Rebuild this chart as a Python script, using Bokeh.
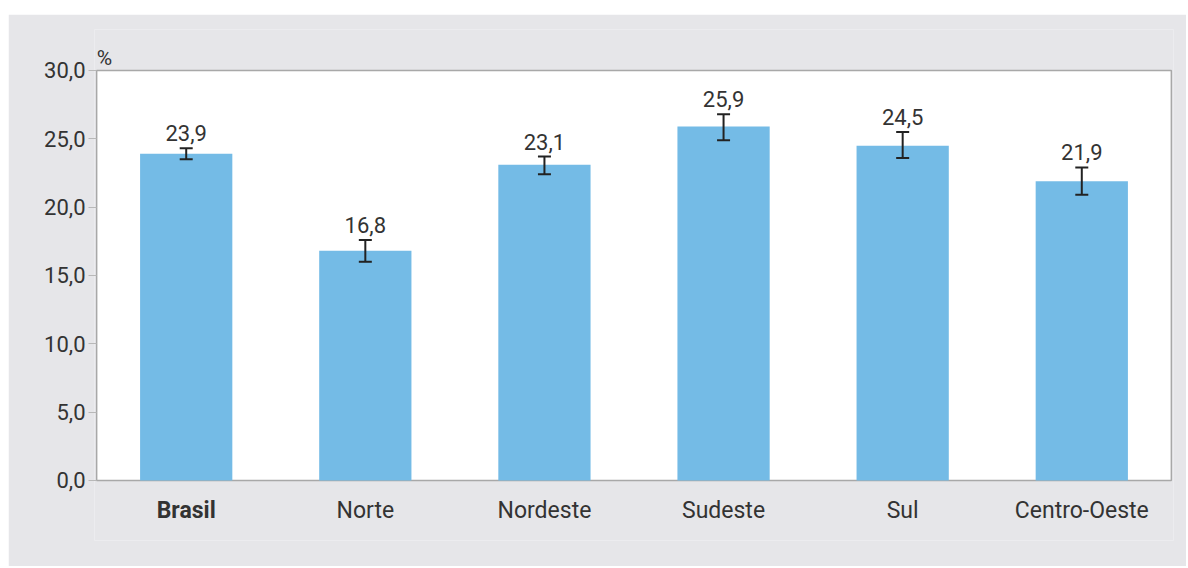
from bokeh.plotting import figure
from bokeh.models import (ColumnDataSource, Whisker, TeeHead, LabelSet, Label,
                          Range1d, FactorRange, CustomJSTickFormatter, Spacer, FixedTicker)
from bokeh.core.properties import value, field
from bokeh.layouts import column, row
from bokeh.embed import file_html
from bokeh.resources import INLINE

# ---- data ----
categories = ["Brasil", "Norte", "Nordeste", "Sudeste", "Sul", "Centro-Oeste"]
values = [23.9, 16.8, 23.1, 25.9, 24.5, 21.9]
lower = [23.5, 16.0, 22.4, 24.9, 23.6, 20.9]
upper = [24.3, 17.6, 23.7, 26.8, 25.5, 22.9]
y_ticks = [0, 5, 10, 15, 20, 25, 30]
unit_label = "%"
highlight = "Brasil"

FONT = "Roboto"
TEXT_COLOR = "#333333"
BG = "#e6e6e9"
BAR = "#74bbe6"
EDGE = "#a8a8a8"

src = ColumnDataSource(dict(
    cat=categories,
    val=values,
    lo=lower,
    hi=upper,
    lbl=[("%.1f" % v).replace(".", ",") for v in values],
    style=["bold" if c == highlight else "normal" for c in categories],
    base=[y_ticks[0]] * len(categories),
))

# frame extended below 0 and above 30 so that category labels and the unit
# label can be drawn inside it; the white plot area is drawn as a quad
p = figure(x_range=FactorRange(*categories, range_padding=0.004),
           y_range=Range1d(-4.4, 33.0),
           width=1178, height=552, output_backend="svg", toolbar_location=None,
           min_border_left=86, min_border_right=13, min_border_top=15, min_border_bottom=26)

p.border_fill_color = BG
p.background_fill_color = BG
p.outline_line_color = None
p.grid.visible = False

p.quad(left=[0], right=[len(categories)], bottom=[y_ticks[0]], top=[y_ticks[-1]],
       fill_color="white", line_color=EDGE, line_width=1.5)

p.vbar(x="cat", top="val", width=0.515, source=src, fill_color=BAR, line_color=None)

whisk = Whisker(base="cat", upper="hi", lower="lo", source=src, level="annotation",
                line_color="#222222", line_width=2,
                upper_head=TeeHead(size=13, line_color="#222222", line_width=2),
                lower_head=TeeHead(size=13, line_color="#222222", line_width=2))
p.add_layout(whisk)

p.add_layout(LabelSet(x="cat", y="hi", text="lbl", source=src, y_offset=7,
                      text_align="center", text_baseline="bottom",
                      text_font=value(FONT), text_font_size="22px", text_color=TEXT_COLOR))

p.add_layout(LabelSet(x="cat", y="base", text="cat", source=src, y_offset=-30,
                      text_align="center", text_baseline="middle",
                      text_font=value(FONT), text_font_size="23px",
                      text_font_style=field("style"), text_color=TEXT_COLOR))

p.add_layout(Label(x=0, y=y_ticks[-1], text=unit_label, y_offset=12, x_offset=0,
                   text_align="left", text_baseline="alphabetic",
                   text_font=FONT, text_font_size="21px", text_color=TEXT_COLOR))

# y axis
p.yaxis.ticker = FixedTicker(ticks=y_ticks)
p.yaxis.formatter = CustomJSTickFormatter(code="return tick.toFixed(1).replace('.', ',');")
p.yaxis.major_label_text_font = FONT
p.yaxis.major_label_text_font_size = "22px"
p.yaxis.major_label_text_color = TEXT_COLOR
p.yaxis.major_label_standoff = 3
p.yaxis.major_tick_in = 2
p.yaxis.major_tick_out = 6
p.yaxis.major_tick_line_color = "#b8b8b8"
p.yaxis.minor_tick_line_color = None
p.yaxis.axis_line_color = None

p.xaxis.visible = False

layout = column(Spacer(width=1186, height=14), row(Spacer(width=8, height=552), p))
open("out.html", "w").write(file_html(layout, INLINE))
